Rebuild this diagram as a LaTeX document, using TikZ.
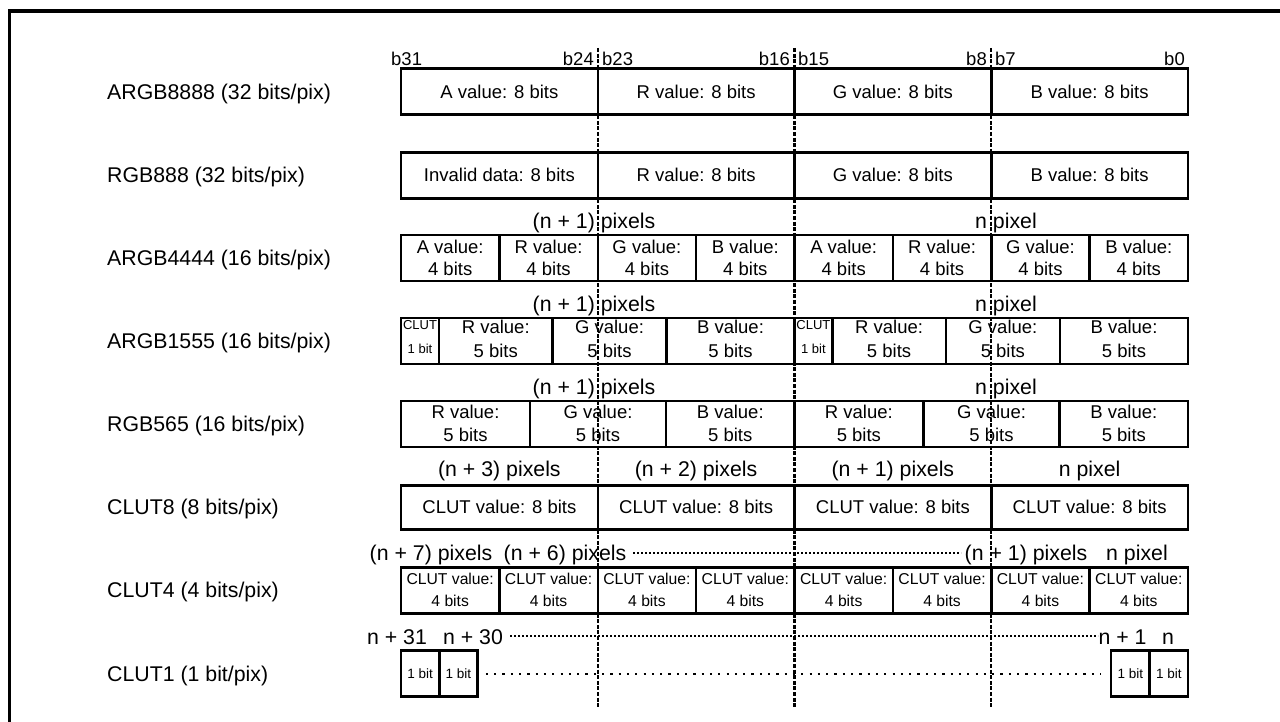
\documentclass[tikz,border=0pt]{standalone}
\usepackage{fontspec}
\setmainfont{Liberation Sans}
\newcommand\fbig{\fontsize{21.3}{25}\selectfont}
\newcommand\fmid{\fontsize{18.5}{21.5}\selectfont}
\newcommand\mkcell[7]{%
  \node[cell,#5,minimum width={(#3-#2)*1pt}] (#1) at ({(#2+#3)/2},#4) {};
  \node[celltext,#6] (#1t) at (#1.center) {#7};}
\begin{document}
\begin{tikzpicture}[x=1pt,y=-1pt,
 cell/.style={draw,line width=2.5pt,inner sep=0pt,minimum height=46pt},
 celltext/.style={inner sep=0pt,align=center,font=\fmid},
 t1555/.style={font=\fontsize{18.5}{24.5}\selectfont,yshift=2pt},
 tclut/.style={font=\fontsize{13}{24}\selectfont,yshift=3.5pt},
 t565/.style={font=\fontsize{18.5}{23.3}\selectfont,yshift=0.7pt},
 tc4/.style={font=\fontsize{15.7}{22}\selectfont},
 tc1/.style={font=\fontsize{13.5}{16}\selectfont},
 rowlbl/.style={anchor=west,inner sep=0pt,font=\fbig,text height=15.2pt,text depth=0pt},
 pixlbl/.style={inner sep=0pt,font=\fbig,text height=15.2pt,text depth=0pt},
 bitlbl/.style={inner sep=0pt,font=\fmid,text height=13.3pt,text depth=0pt},
 divider/.style={line width=2.4pt,dash pattern=on 4pt off 1.6pt},
 dotrow/.style={line width=2pt,dash pattern=on 2pt off 2pt},
 sparsedots/.style={line width=2.2pt,dash pattern=on 2.2pt off 6.1pt},
 frame/.style={line width=3.5pt}]
\useasboundingbox (0,0) rectangle (1280,722);
% frame (only top and left visible)
\coordinate (fa) at (9.5,722);
\coordinate (fb) at (9.5,11);
\coordinate (fc) at (1280,11);
\draw[frame] (fa) -- (fb) -- (fc);
% dashed byte dividers
\foreach \i/\x in {1/597.75,2/794.5,3/991.25}{
  \coordinate (d\i t) at (\x,48);
  \coordinate (d\i b) at (\x,707);
  \draw[divider] (d\i t) -- (d\i b);
}
% bit labels
\node[bitlbl,anchor=west] (b31) at (391,59) {b31};
\node[bitlbl,anchor=east] (b24) at (594,59) {b24};
\node[bitlbl,anchor=west] (b23) at (602,59) {b23};
\node[bitlbl,anchor=east] (b16) at (790,59) {b16};
\node[bitlbl,anchor=west] (b15) at (798,59) {b15};
\node[bitlbl,anchor=east] (b8) at (987,59) {b8};
\node[bitlbl,anchor=west] (b7) at (995,59) {b7};
\node[bitlbl,anchor=east] (b0) at (1185,59) {b0};
% row labels
\node[rowlbl] (l1) at (107,91.5) {ARGB8888 (32 bits/pix)};
\node[rowlbl] (l2) at (107,175.3) {RGB888 (32 bits/pix)};
\node[rowlbl] (l3) at (107,258) {ARGB4444 (16 bits/pix)};
\node[rowlbl] (l4) at (107,341) {ARGB1555 (16 bits/pix)};
\node[rowlbl] (l5) at (107,424) {RGB565 (16 bits/pix)};
\node[rowlbl] (l6) at (107,507.3) {CLUT8 (8 bits/pix)};
\node[rowlbl] (l7) at (107,590.3) {CLUT4 (4 bits/pix)};
\node[rowlbl] (l8) at (107,673.7) {CLUT1 (1 bit/pix)};
% ARGB8888
\mkcell{a8a}{401}{597.75}{91.5}{}{}{A value: 8 bits}
\mkcell{a8r}{597.75}{794.5}{91.5}{}{}{R value: 8 bits}
\mkcell{a8g}{794.5}{991.25}{91.5}{}{}{G value: 8 bits}
\mkcell{a8b}{991.25}{1188}{91.5}{}{}{B value: 8 bits}
% RGB888
\mkcell{r8x}{401}{597.75}{175.3}{}{}{Invalid data: 8 bits}
\mkcell{r8r}{597.75}{794.5}{175.3}{}{}{R value: 8 bits}
\mkcell{r8g}{794.5}{991.25}{175.3}{}{}{G value: 8 bits}
\mkcell{r8b}{991.25}{1188}{175.3}{}{}{B value: 8 bits}
% ARGB4444
\node[pixlbl] (p3a) at (594,220.5) {(n + 1) pixels};
\node[pixlbl] (p3b) at (1006,220.5) {n pixel};
\mkcell{a4c1}{401}{499.375}{258}{}{}{A value:\\4 bits}
\mkcell{a4c2}{499.375}{597.75}{258}{}{}{R value:\\4 bits}
\mkcell{a4c3}{597.75}{696.125}{258}{}{}{G value:\\4 bits}
\mkcell{a4c4}{696.125}{794.5}{258}{}{}{B value:\\4 bits}
\mkcell{a4c5}{794.5}{892.875}{258}{}{}{A value:\\4 bits}
\mkcell{a4c6}{892.875}{991.25}{258}{}{}{R value:\\4 bits}
\mkcell{a4c7}{991.25}{1089.625}{258}{}{}{G value:\\4 bits}
\mkcell{a4c8}{1089.625}{1188}{258}{}{}{B value:\\4 bits}
% ARGB1555
\node[pixlbl] (p4a) at (594,303.5) {(n + 1) pixels};
\node[pixlbl] (p4b) at (1006,303.5) {n pixel};
\mkcell{a15c1}{401}{439}{341}{}{tclut}{CLUT\\1 bit}
\mkcell{a15c2}{439}{552.5}{341}{}{t1555}{R value:\\5 bits}
\mkcell{a15c3}{552.5}{666.5}{341}{}{t1555}{G value:\\5 bits}
\mkcell{a15c4}{666.5}{794.5}{341}{}{t1555}{B value:\\5 bits}
\mkcell{a15c5}{794.5}{832.3}{341}{}{tclut}{CLUT\\1 bit}
\mkcell{a15c6}{832.3}{945.8}{341}{}{t1555}{R value:\\5 bits}
\mkcell{a15c7}{945.8}{1060}{341}{}{t1555}{G value:\\5 bits}
\mkcell{a15c8}{1060}{1188}{341}{}{t1555}{B value:\\5 bits}
% RGB565
\node[pixlbl] (p5a) at (594,387) {(n + 1) pixels};
\node[pixlbl] (p5b) at (1006,387) {n pixel};
\mkcell{r5c1}{401}{530}{424}{}{t565}{R value:\\5 bits}
\mkcell{r5c2}{530}{666}{424}{}{t565}{G value:\\5 bits}
\mkcell{r5c3}{666}{794.5}{424}{}{t565}{B value:\\5 bits}
\mkcell{r5c4}{794.5}{923.3}{424}{}{t565}{R value:\\5 bits}
\mkcell{r5c5}{923.3}{1059.7}{424}{}{t565}{G value:\\5 bits}
\mkcell{r5c6}{1059.7}{1188}{424}{}{t565}{B value:\\5 bits}
% CLUT8
\node[pixlbl] (p6a) at (499.4,469) {(n + 3) pixels};
\node[pixlbl] (p6b) at (696.1,469) {(n + 2) pixels};
\node[pixlbl] (p6c) at (892.9,469) {(n + 1) pixels};
\node[pixlbl] (p6d) at (1089.6,469) {n pixel};
\mkcell{c8c1}{401}{597.75}{507.3}{minimum height=44pt}{}{CLUT value: 8 bits}
\mkcell{c8c2}{597.75}{794.5}{507.3}{minimum height=44pt}{}{CLUT value: 8 bits}
\mkcell{c8c3}{794.5}{991.25}{507.3}{minimum height=44pt}{}{CLUT value: 8 bits}
\mkcell{c8c4}{991.25}{1188}{507.3}{minimum height=44pt}{}{CLUT value: 8 bits}
% CLUT4
\node[pixlbl] (p7a) at (431,553) {(n + 7) pixels};
\node[pixlbl] (p7b) at (565,553) {(n + 6) pixels};
\node[pixlbl] (p7c) at (1026,553) {(n + 1) pixels};
\node[pixlbl] (p7d) at (1137,553) {n pixel};
\coordinate (q7a) at (633,553);
\coordinate (q7b) at (961,553);
\draw[dotrow] (q7a) -- (q7b);
\mkcell{c4c1}{401}{499.375}{590.3}{}{tc4}{CLUT value:\\4 bits}
\mkcell{c4c2}{499.375}{597.75}{590.3}{}{tc4}{CLUT value:\\4 bits}
\mkcell{c4c3}{597.75}{696.125}{590.3}{}{tc4}{CLUT value:\\4 bits}
\mkcell{c4c4}{696.125}{794.5}{590.3}{}{tc4}{CLUT value:\\4 bits}
\mkcell{c4c5}{794.5}{892.875}{590.3}{}{tc4}{CLUT value:\\4 bits}
\mkcell{c4c6}{892.875}{991.25}{590.3}{}{tc4}{CLUT value:\\4 bits}
\mkcell{c4c7}{991.25}{1089.625}{590.3}{}{tc4}{CLUT value:\\4 bits}
\mkcell{c4c8}{1089.625}{1188}{590.3}{}{tc4}{CLUT value:\\4 bits}
% CLUT1
\node[pixlbl] (p8a) at (397,637) {n + 31};
\node[pixlbl] (p8b) at (473,637) {n + 30};
\node[pixlbl] (p8c) at (1122.5,637) {n + 1};
\node[pixlbl] (p8d) at (1168,637) {n};
\coordinate (q8a) at (510,636);
\coordinate (q8b) at (1098,636);
\draw[dotrow] (q8a) -- (q8b);
\mkcell{c1c1}{401}{439.3}{673.7}{}{tc1}{1 bit}
\mkcell{c1c2}{439.3}{477.6}{673.7}{}{tc1}{1 bit}
\mkcell{c1c3}{1111.1}{1149.5}{673.7}{}{tc1}{1 bit}
\mkcell{c1c4}{1149.5}{1188}{673.7}{}{tc1}{1 bit}
\draw[sparsedots] ([xshift=7pt]c1c2.east) -- ([xshift=-9pt]c1c3.west);
\end{tikzpicture}
\end{document}
